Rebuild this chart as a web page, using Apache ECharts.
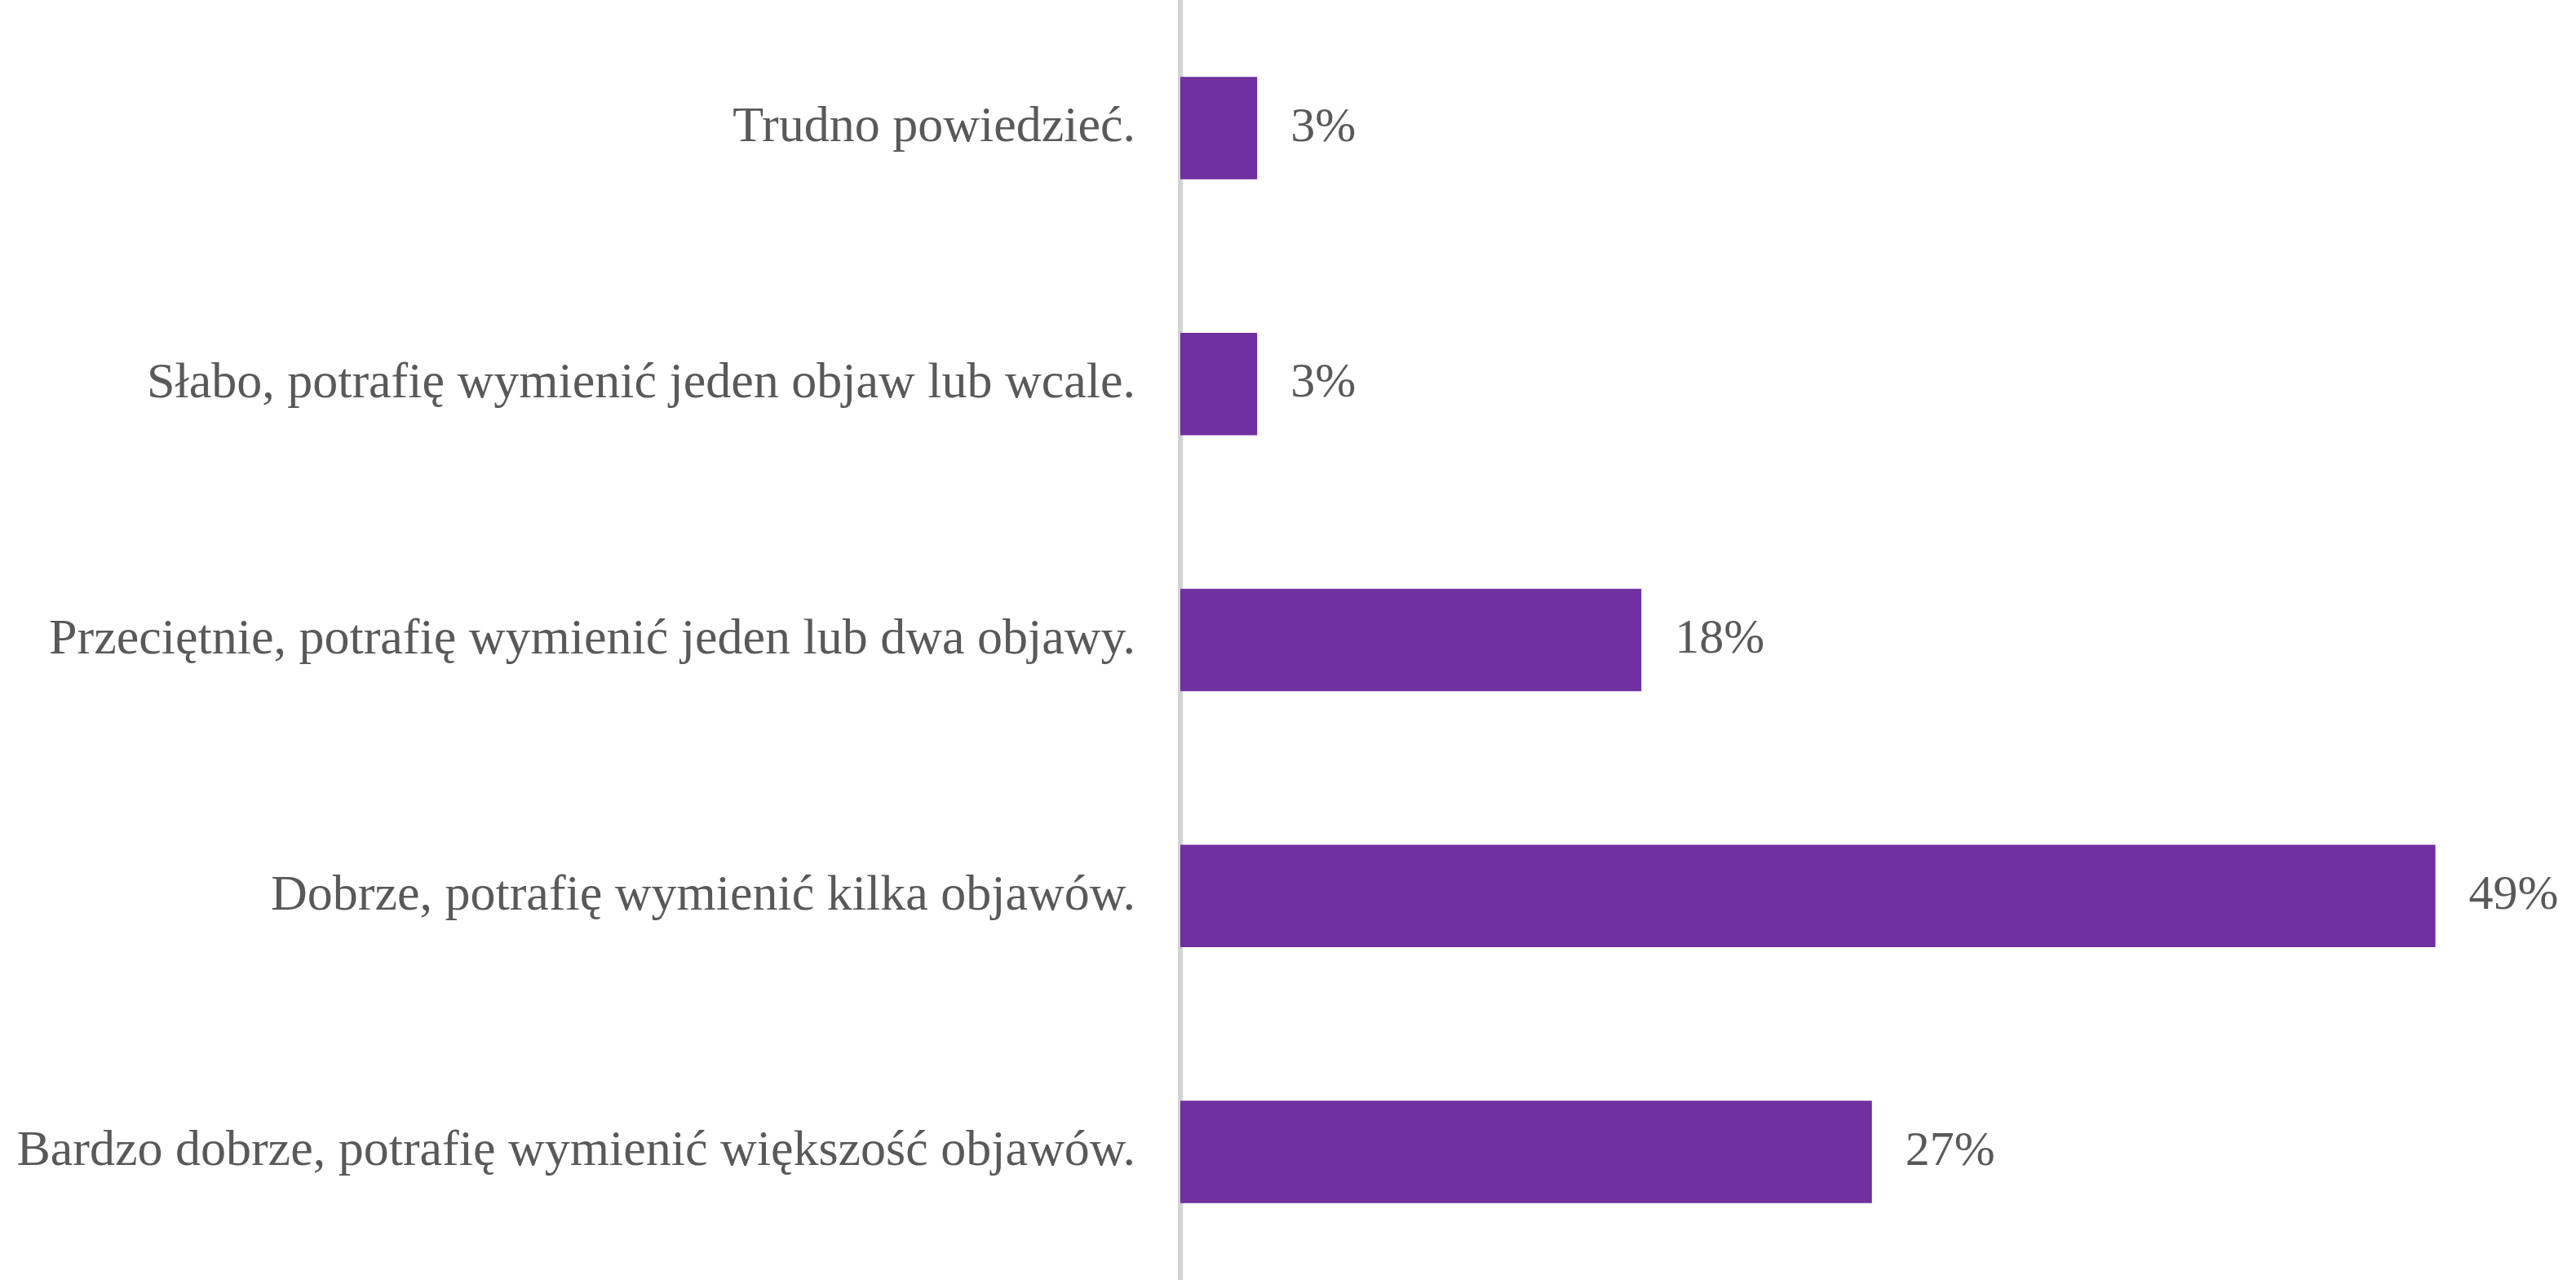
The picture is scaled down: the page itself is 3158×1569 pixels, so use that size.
<!DOCTYPE html>
<html>
<head>
<meta charset="utf-8">
<style>
  html, body { margin: 0; padding: 0; background: #ffffff; }
  #chart { width: 3158px; height: 1569px; }
</style>
<script src="https://cdn.jsdelivr.net/npm/echarts@6/dist/echarts.min.js"></script>
</head>
<body>
<div id="chart"></div>
<script>
// Survey answers, listed top to bottom
const categories = [
  'Trudno powiedzieć.',
  'Słabo, potrafię wymienić jeden objaw lub wcale.',
  'Przeciętnie, potrafię wymienić jeden lub dwa objawy.',
  'Dobrze, potrafię wymienić kilka objawów.',
  'Bardzo dobrze, potrafię wymienić większość objawów.'
];
// Share of respondents (%)
const shares = [3, 3, 18, 49, 27];

const chart = echarts.init(document.getElementById('chart'));
const textFont = '"Liberation Serif", "Times New Roman", serif';

chart.setOption({
  backgroundColor: '#ffffff',
  animation: false,
  grid: { left: 1447, right: 141, top: -1, bottom: -4, containLabel: false },
  xAxis: {
    type: 'value',
    min: 0,
    max: 50,
    show: false,
    splitLine: { show: false }
  },
  yAxis: {
    type: 'category',
    data: categories,
    inverse: true,
    offset: 3,
    axisLine: { show: true, lineStyle: { color: '#d3d3d3', width: 6 } },
    axisTick: { show: false },
    axisLabel: {
      margin: 52,
      color: '#595959',
      fontFamily: textFont,
      fontSize: 62,
      padding: [6, 0, 0, 0]
    }
  },
  series: [{
    type: 'bar',
    data: shares,
    barWidth: '40%',
    itemStyle: { color: '#7030A0' },
    label: {
      show: true,
      position: 'right',
      distance: 41,
      formatter: '{c}%',
      color: '#595959',
      fontFamily: textFont,
      fontSize: 60
    }
  }]
});
</script>
</body>
</html>
